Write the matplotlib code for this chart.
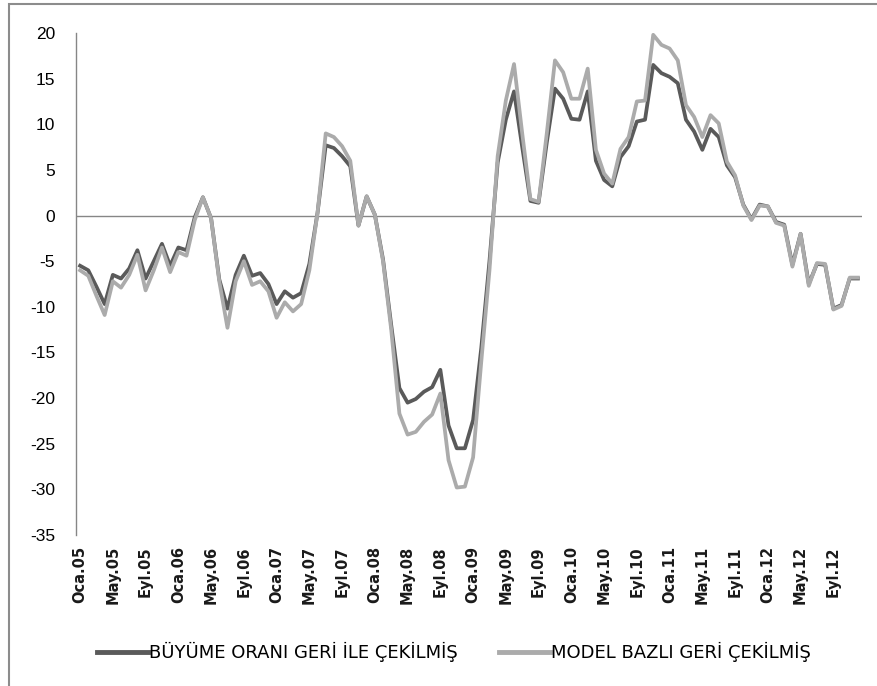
import matplotlib
matplotlib.use("Agg")
import matplotlib.pyplot as plt
from matplotlib.lines import Line2D

months = ["Oca", "Şub", "Mar", "Nis", "May", "Haz", "Tem", "Ağu", "Eyl", "Eki", "Kas", "Ara"]
years = ["05", "06", "07", "08", "09", "10", "11", "12"]
categories = [f"{m}.{y}" for y in years for m in months]

buyume = [
    -5.5, -6.0, -7.8, -9.7, -6.5, -6.9, -5.8, -3.8, -6.9, -5.0,
    -3.1, -5.5, -3.5, -3.8, -0.2, 2.0, -0.3, -7.0, -10.2, -6.5,
    -4.4, -6.6, -6.3, -7.5, -9.7, -8.3, -9.0, -8.5, -5.3, 0.3,
    7.7, 7.4, 6.5, 5.4, -1.1, 2.1, 0.1, -4.8, -12.0, -18.9,
    -20.5, -20.1, -19.3, -18.8, -16.9, -23.0, -25.5, -25.5, -22.4, -14.5,
    -5.0, 5.8, 10.5, 13.6, 7.5, 1.6, 1.4, 8.0, 13.9, 12.8,
    10.6, 10.5, 13.6, 6.0, 3.9, 3.2, 6.4, 7.6, 10.3, 10.5,
    16.5, 15.6, 15.2, 14.5, 10.5, 9.2, 7.2, 9.5, 8.6, 5.5,
    4.2, 1.2, -0.4, 1.2, 1.0, -0.7, -1.0, -5.4, -2.0, -7.5,
    -5.3, -5.4, -10.2, -9.8, -6.9, -6.9]

model = [
    -6.0, -6.6, -8.8, -10.9, -7.2, -7.9, -6.5, -4.3, -8.2, -6.0,
    -3.5, -6.2, -4.0, -4.4, -0.5, 2.0, -0.3, -7.2, -12.3, -7.2,
    -5.0, -7.6, -7.2, -8.3, -11.2, -9.5, -10.5, -9.7, -6.0, 0.3,
    9.0, 8.6, 7.6, 6.0, -1.1, 2.1, 0.1, -5.0, -12.5, -21.7,
    -24.0, -23.7, -22.6, -21.8, -19.5, -26.8, -29.8, -29.7, -26.5, -16.0,
    -6.0, 6.5, 12.6, 16.6, 9.0, 1.8, 1.5, 9.0, 17.0, 15.7,
    12.8, 12.8, 16.1, 7.2, 4.6, 3.5, 7.3, 8.6, 12.5, 12.6,
    19.8, 18.7, 18.3, 17.0, 12.1, 10.8, 8.6, 11.0, 10.1, 5.9,
    4.4, 1.1, -0.5, 1.1, 1.0, -0.8, -1.1, -5.6, -2.0, -7.7,
    -5.2, -5.3, -10.3, -9.9, -6.8, -6.8]

series_names = ["BÜYÜME ORANI GERİ İLE ÇEKİLMİŞ", "MODEL BAZLI GERİ ÇEKİLMİŞ"]
yticks = list(range(-35, 25, 5))

fig = plt.figure(figsize=(8.78, 6.86), dpi=100)
W, H = 878, 686
ax = fig.add_axes([76 / W, 1 - 535 / H, (862 - 76) / W, (535 - 33) / H])

# outer chart border
fig.add_artist(plt.Rectangle((9 / W, -0.01), 1.2, 1 - 4 / H + 0.01, transform=fig.transFigure,
                             fill=False, edgecolor="#8c8c8c", linewidth=1.5))

x = list(range(len(categories)))
dark_c = "#5a5a5a"
light_c = "#ababab"
ax.plot(x, buyume, color=dark_c, linewidth=2.7, solid_joinstyle="round", zorder=3)
ax.plot(x, model, color=light_c, linewidth=2.7, solid_joinstyle="round", zorder=4)

ax.set_xlim(-0.5, len(categories) - 0.5)
ax.set_ylim(-35, 20)
ax.axhline(0, color="#868686", linewidth=1.0, zorder=2)

for s in ["top", "right", "bottom"]:
    ax.spines[s].set_visible(False)
ax.spines["left"].set_color("#868686")
ax.spines["left"].set_linewidth(1.0)

ax.set_yticks(yticks)
ax.set_yticklabels([str(v) for v in yticks], family="Liberation Sans", fontsize=12.5)
ax.tick_params(axis="y", length=0, pad=15)

ax.set_xticks(x[::4])
ax.set_xticklabels(categories[::4], rotation=90, family="DejaVu Sans", fontsize=10.5,
                   fontweight="bold", color="#1a1a1a")
ax.tick_params(axis="x", length=0, pad=8)

handles = [Line2D([], [], color=dark_c, linewidth=3.5),
           Line2D([], [], color=light_c, linewidth=3.5)]
fig.legend(handles, series_names, loc="center", bbox_to_anchor=(454 / W, 1 - 652 / H),
           ncol=2, frameon=False, handlelength=2.8, handletextpad=0.05, columnspacing=2.3,
           prop={"family": "DejaVu Sans", "size": 13})

fig.savefig("out.png", dpi=100)
